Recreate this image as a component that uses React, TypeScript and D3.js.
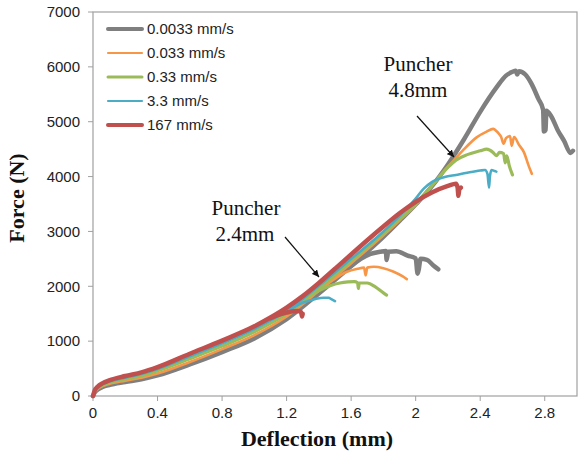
import React from "react";
import * as d3 from "d3";

type Pt = [number, number];

const SERIES_LABELS = ["0.0033 mm/s", "0.033 mm/s", "0.33 mm/s", "3.3 mm/s", "167 mm/s"];
const SERIES_COLORS = ["#7f7f7f", "#f79646", "#9bbb59", "#4bacc6", "#c0504d"];
const SERIES_WIDTHS = [4.5, 2.6, 3.2, 2.6, 4.5];
const LEGEND_WIDTHS = [4, 2.2, 3, 2.2, 4];

const X_TICKS = [0, 0.4, 0.8, 1.2, 1.6, 2, 2.4, 2.8];
const Y_TICKS = [0, 1000, 2000, 3000, 4000, 5000, 6000, 7000];

// Puncher 4.8 mm tests
const GRAY_48: Pt[] = [[0,0],[0.01,60],[0.03,120],[0.06,165],[0.1,200],[0.2,255],[0.3,305],[0.4,375],[0.6,575],[0.8,800],[1.0,1050],[1.2,1400],[1.4,1870],[1.6,2370],[1.7,2630],[1.8,2900],[1.9,3190],[2.0,3490],[2.1,3820],[2.2,4220],[2.3,4680],[2.4,5180],[2.5,5620],[2.56,5840],[2.6,5910],[2.62,5930],[2.63,5860],[2.64,5920],[2.68,5860],[2.72,5680],[2.76,5420],[2.79,5220],[2.795,4820],[2.805,4850],[2.81,5200],[2.84,5100],[2.88,4850],[2.92,4650],[2.96,4430],[2.975,4470]];
const ORANGE_48: Pt[] = [[0,0],[0.01,65],[0.03,130],[0.06,180],[0.1,220],[0.2,280],[0.3,335],[0.4,410],[0.6,620],[0.8,855],[1.0,1110],[1.2,1450],[1.4,1920],[1.6,2420],[1.8,2930],[1.9,3200],[2.0,3480],[2.1,3830],[2.2,4180],[2.25,4340],[2.3,4500],[2.38,4720],[2.44,4820],[2.48,4870],[2.51,4800],[2.53,4720],[2.545,4600],[2.56,4700],[2.585,4740],[2.595,4560],[2.61,4720],[2.64,4580],[2.67,4450],[2.7,4200],[2.72,4050]];
const GREEN_48: Pt[] = [[0,0],[0.01,75],[0.03,145],[0.06,200],[0.1,245],[0.2,310],[0.3,370],[0.4,460],[0.6,680],[0.8,910],[1.0,1170],[1.2,1500],[1.4,1960],[1.6,2460],[1.8,2960],[1.9,3220],[2.0,3500],[2.1,3830],[2.2,4170],[2.25,4300],[2.32,4400],[2.4,4470],[2.44,4500],[2.48,4440],[2.5,4380],[2.52,4440],[2.545,4420],[2.555,4250],[2.565,4380],[2.58,4200],[2.6,4030]];
const BLUE_48: Pt[] = [[0,0],[0.01,85],[0.03,160],[0.06,215],[0.1,262],[0.2,335],[0.3,400],[0.4,490],[0.6,725],[0.8,960],[1.0,1220],[1.2,1550],[1.4,2010],[1.6,2500],[1.8,3000],[1.9,3280],[2.0,3600],[2.05,3780],[2.1,3900],[2.18,3990],[2.25,4030],[2.32,4070],[2.4,4110],[2.43,4120],[2.445,4050],[2.455,3800],[2.46,4000],[2.47,4120],[2.49,4100],[2.5,4090]];
const RED_48: Pt[] = [[0,0],[0.01,95],[0.03,175],[0.06,235],[0.1,285],[0.2,365],[0.3,430],[0.4,525],[0.6,770],[0.8,1010],[1.0,1270],[1.1,1430],[1.2,1610],[1.3,1820],[1.4,2060],[1.5,2320],[1.6,2580],[1.7,2840],[1.8,3090],[1.9,3330],[2.0,3540],[2.1,3710],[2.2,3830],[2.25,3870],[2.26,3800],[2.265,3650],[2.27,3760],[2.28,3800]];

// Puncher 2.4 mm tests (branch off the common loading curve)
const GRAY_24: Pt[] = [[1.6,2370],[1.66,2500],[1.72,2590],[1.78,2630],[1.815,2645],[1.82,2480],[1.83,2630],[1.88,2640],[1.95,2560],[2.0,2510],[2.012,2230],[2.02,2320],[2.03,2500],[2.07,2480],[2.11,2380],[2.14,2310]];
const ORANGE_24: Pt[] = [[1.4,1920],[1.5,2140],[1.57,2260],[1.64,2320],[1.68,2340],[1.69,2200],[1.70,2340],[1.74,2355],[1.8,2330],[1.86,2270],[1.92,2180],[1.945,2130]];
const GREEN_24: Pt[] = [[1.3,1730],[1.4,1920],[1.47,2010],[1.53,2060],[1.58,2080],[1.62,2085],[1.64,2065],[1.645,1960],[1.65,2060],[1.7,2060],[1.75,1990],[1.8,1880],[1.82,1840]];
const BLUE_24: Pt[] = [[1.2,1540],[1.3,1700],[1.38,1770],[1.43,1790],[1.46,1790],[1.48,1760],[1.5,1730]];
const RED_24: Pt[] = [[1.1,1420],[1.15,1480],[1.2,1520],[1.24,1545],[1.27,1550],[1.29,1530],[1.295,1450],[1.3,1500]];

const MAIN = [GRAY_48, ORANGE_48, GREEN_48, BLUE_48, RED_48];
const BRANCH = [GRAY_24, ORANGE_24, GREEN_24, BLUE_24, RED_24];

export default function App() {
  const W = 585, H = 454;
  const x = d3.scaleLinear().domain([0, 3]).range([93, 577]);
  const y = d3.scaleLinear().domain([0, 7000]).range([396, 12]);
  const line = d3.line<Pt>().x(d => x(d[0])).y(d => y(d[1])).curve(d3.curveMonotoneX);
  const axisColor = "#a0a0a0";
  const tickFont = "Liberation Sans, Arial, sans-serif";
  const serif = "Liberation Serif, Times New Roman, serif";

  return (
    <svg width={W} height={H} style={{ position: "absolute", left: 0, top: 0, background: "#fff" }}>
      <defs>
        <marker id="arr" viewBox="0 0 10 10" refX="10" refY="5" markerWidth="7" markerHeight="7" orient="auto" markerUnits="userSpaceOnUse">
          <path d="M0,0 L10,5 L0,10 z" fill="#111" />
        </marker>
      </defs>
      <rect x={93} y={12} width={484} height={384} fill="none" stroke={axisColor} strokeWidth={1.2} />
      {Y_TICKS.map(t => (
        <g key={"y" + t}>
          <line x1={88} x2={93} y1={y(t)} y2={y(t)} stroke={axisColor} strokeWidth={1} />
          <text x={80} y={y(t)} dy="0.35em" textAnchor="end" fontFamily={tickFont} fontSize={15} fill="#222">{t}</text>
        </g>
      ))}
      {X_TICKS.map(t => (
        <g key={"x" + t}>
          <line x1={x(t)} x2={x(t)} y1={396} y2={401} stroke={axisColor} strokeWidth={1} />
          <text x={x(t)} y={418} textAnchor="middle" fontFamily={tickFont} fontSize={15} fill="#222">{t}</text>
        </g>
      ))}
      {MAIN.map((s, i) => (
        <g key={"s" + i}>
          <path d={line(s) || ""} fill="none" stroke={SERIES_COLORS[i]} strokeWidth={SERIES_WIDTHS[i]} strokeLinejoin="round" strokeLinecap="round" />
          <path d={line(BRANCH[i]) || ""} fill="none" stroke={SERIES_COLORS[i]} strokeWidth={SERIES_WIDTHS[i]} strokeLinejoin="round" strokeLinecap="round" />
        </g>
      ))}
      {SERIES_LABELS.map((lab, i) => {
        const ly = 29 + i * 24;
        return (
          <g key={"l" + i}>
            <line x1={108} x2={142} y1={ly} y2={ly} stroke={SERIES_COLORS[i]} strokeWidth={LEGEND_WIDTHS[i]} strokeLinecap="round" />
            <text x={147} y={ly} dy="0.35em" fontFamily={tickFont} fontSize={15} fill="#222">{lab}</text>
          </g>
        );
      })}
      <text x={418} y={71} textAnchor="middle" fontFamily={serif} fontSize={21} fill="#111">Puncher</text>
      <text x={418} y={97} textAnchor="middle" fontFamily={serif} fontSize={21} fill="#111">4.8mm</text>
      <line x1={417} y1={116} x2={454} y2={157} stroke="#111" strokeWidth={1.2} markerEnd="url(#arr)" />
      <text x={246} y={215} textAnchor="middle" fontFamily={serif} fontSize={21} fill="#111">Puncher</text>
      <text x={245} y={241} textAnchor="middle" fontFamily={serif} fontSize={21} fill="#111">2.4mm</text>
      <line x1={285} y1={237} x2={319} y2={277} stroke="#111" strokeWidth={1.2} markerEnd="url(#arr)" />
      <text x={317} y={446} textAnchor="middle" fontFamily={serif} fontWeight="bold" fontSize={22} fill="#111">Deflection (mm)</text>
      <text transform="translate(24,198) rotate(-90)" textAnchor="middle" fontFamily={serif} fontWeight="bold" fontSize={22} fill="#111">Force (N)</text>
    </svg>
  );
}
